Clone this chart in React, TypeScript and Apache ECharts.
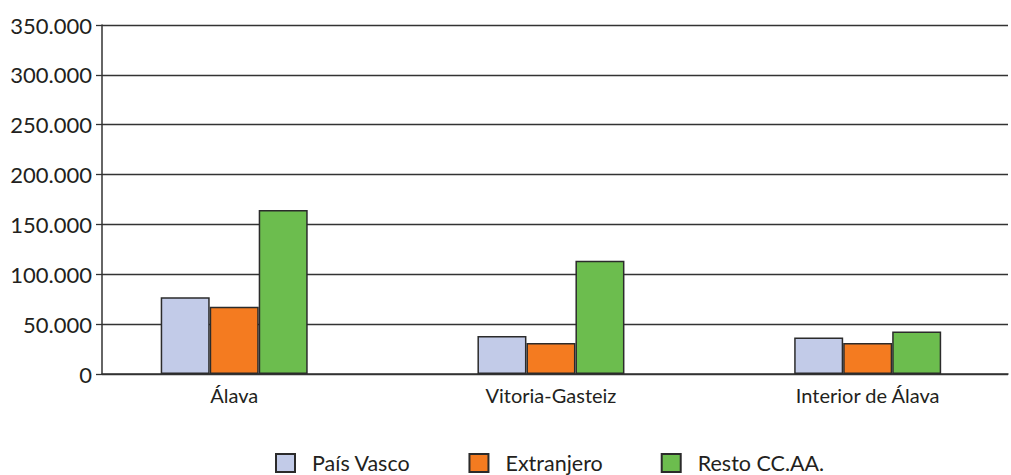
import React, { useEffect, useRef } from "react";
import * as echarts from "echarts";

const categories = ["Álava", "Vitoria-Gasteiz", "Interior de Álava"];
const seriesNames = ["País Vasco", "Extranjero", "Resto CC.AA."];
const paisVasco = [77000, 38000, 36500];
const extranjero = [67500, 31000, 31000];
const restoCCAA = [164500, 113500, 42500];
const colors = ["#c2cbe8", "#f47b20", "#6cbd4e"];
const yMax = 350000;
const yInterval = 50000;

const fmt = (v: number) =>
  v === 0 ? "0" : String(v).replace(/\B(?=(\d{3})+(?!\d))/g, ".");

export default function App() {
  const ref = useRef<HTMLDivElement>(null);
  useEffect(() => {
    if (!ref.current) return;
    const chart = echarts.init(ref.current, undefined, { renderer: "svg" });
    const font = "Lato, 'Noto Sans', sans-serif";
    const dataSets = [paisVasco, extranjero, restoCCAA];
    const catIdx = categories.map((_, i) => i);
    chart.setOption({
      animation: false,
      backgroundColor: "#ffffff",
      textStyle: { fontFamily: font },
      legend: {
        left: 275,
        top: 452,
        padding: 0,
        itemWidth: 19,
        itemHeight: 18,
        itemGap: 58,
        icon: "rect",
        data: seriesNames,
        textStyle: {
          fontFamily: font,
          fontSize: 21.5,
          color: "#231f20",
          padding: [0, 0, 0, 12],
        },
      },
      grid: { left: 102, right: 3, top: 25, bottom: 101 },
      xAxis: {
        type: "value",
        min: -0.4174,
        max: 2.443,
        axisLine: { show: true, onZero: false, lineStyle: { color: "#333333", width: 1.5 } },
        axisTick: { show: false },
        splitLine: { show: false },
        axisLabel: {
          fontFamily: font,
          fontSize: 20,
          color: "#231f20",
          margin: 11,
          customValues: catIdx,
          formatter: (v: number) => categories[Math.round(v)] ?? "",
        },
      },
      yAxis: {
        type: "value",
        min: 0,
        max: yMax,
        interval: yInterval,
        axisLine: { show: true, onZero: false, lineStyle: { color: "#333333", width: 1.5 } },
        axisTick: { show: true, length: 6, lineStyle: { color: "#333333", width: 1.3 } },
        axisLabel: {
          fontFamily: font,
          fontSize: 22,
          color: "#231f20",
          margin: 10,
          formatter: (v: number) => fmt(v),
        },
        splitLine: { show: true, lineStyle: { color: "#333333", width: 1.3 } },
      },
      series: seriesNames.map((name, i) => ({
        name,
        type: "bar",
        data: dataSets[i].map((v, j) => [catIdx[j], v]),
        barWidth: 49,
        barGap: "0%",
        itemStyle: { color: colors[i], borderColor: "#2b2b2b", borderWidth: 1.5 },
      })),
    });
    return () => chart.dispose();
  }, []);
  return (
    <div
      ref={ref}
      style={{ position: "fixed", left: 0, top: 0, width: 1011, height: 475 }}
    />
  );
}
